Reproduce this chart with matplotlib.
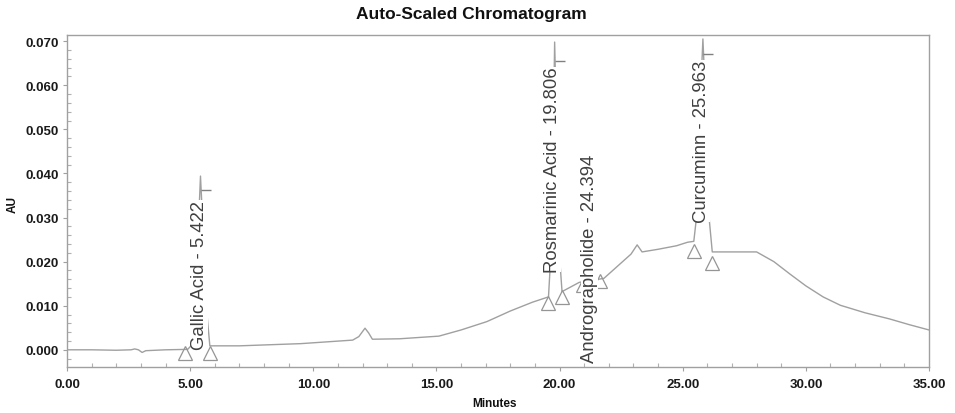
import numpy as np
import matplotlib
matplotlib.use('Agg')
import matplotlib.pyplot as plt
from matplotlib.ticker import MultipleLocator, FormatStrFormatter

plt.rcParams['font.family'] = ['Liberation Sans', 'DejaVu Sans']

# trace (minutes, AU)
minutes = [0.0, 1.0, 2.0, 2.6, 2.75, 2.9, 3.05, 3.2, 4.0, 4.9,
           5.05, 5.25, 5.35, 5.42, 5.50, 5.62, 5.8, 7.0, 9.5, 11.6,
           11.85, 12.1, 12.25, 12.4, 13.5, 15.1, 16.0, 17.05, 18.0, 18.9,
           19.55, 19.68, 19.76, 19.80, 19.86, 19.95, 20.1, 20.8, 21.8, 22.9,
           23.15, 23.35, 24.0, 24.75, 25.2, 25.45, 25.62, 25.74, 25.82, 25.90,
           26.02, 26.2, 28.0, 28.7, 29.35, 30.0, 30.7, 31.4, 32.4, 33.4,
           34.2, 35.0]
au = [0.0000, 0.0000, -0.0001, 0.0000, 0.0002, 0.0000, -0.0006, -0.0002, 0.0000, 0.0001,
      0.0010, 0.0120, 0.0300, 0.0394, 0.0300, 0.0120, 0.0009, 0.0009, 0.0014, 0.0022,
      0.0030, 0.0049, 0.0038, 0.0024, 0.0025, 0.0031, 0.0045, 0.0064, 0.0088, 0.0108,
      0.0120, 0.0250, 0.0550, 0.0698, 0.0550, 0.0250, 0.0132, 0.0153, 0.0162, 0.0217,
      0.0238, 0.0222, 0.0228, 0.0236, 0.0244, 0.0246, 0.0330, 0.0600, 0.0705, 0.0600,
      0.0330, 0.0222, 0.0222, 0.0200, 0.0172, 0.0145, 0.0120, 0.0101, 0.0084, 0.0070,
      0.0057, 0.0045]

# peak labels as printed on the report
peak_names = ['Gallic Acid', 'Rosmarinic Acid', 'Andrographolide', 'Curcuminn']
peak_times = [5.422, 19.806, 24.394, 25.963]
label_x = [5.37, 19.70, 21.23, 25.78]
label_y = [0.0002, 0.0176, -0.0028, 0.0290]

# small leader ticks above the labels
dash_x = [5.45, 19.82, 25.84]
dash_y = [0.0362, 0.0654, 0.0670]

# peak start / end markers
mark_x = [4.8, 5.8, 19.55, 20.1, 20.95, 21.65, 25.45, 26.2]
mark_y = [-0.0008, -0.0008, 0.0106, 0.0120, 0.0148, 0.0155, 0.0225, 0.0197]

fig = plt.figure(figsize=(9.55, 4.14), dpi=100)
ax = fig.add_axes([67/955, 1-368/414, (929-67)/955, (368-36)/414])

ax.plot(minutes, au, color='#a0a0a0', lw=1.0, zorder=2)
ax.plot(mark_x, mark_y, linestyle='none', marker='^', markersize=9.5,
        markerfacecolor='none', markeredgecolor='#959595', markeredgewidth=0.9, zorder=3)
ax.plot(dash_x, dash_y, linestyle='none', marker=1, markersize=7,
        markeredgecolor='#808080', markeredgewidth=1.0, zorder=3)

for name, t, x, y in zip(peak_names, peak_times, label_x, label_y):
    ax.text(x, y, f'{name} - {t:.3f}', rotation=90, ha='center', va='bottom',
            fontsize=13.3, color='#404040', zorder=4,
            bbox=dict(boxstyle='square,pad=0.0', fc='white', ec='none'))

ax.set_xlim(0, 35)
ax.set_ylim(-0.0039, 0.0714)
ax.xaxis.set_major_locator(MultipleLocator(5))
ax.xaxis.set_minor_locator(MultipleLocator(1))
ax.yaxis.set_major_locator(MultipleLocator(0.01))
ax.yaxis.set_minor_locator(MultipleLocator(0.002))
ax.xaxis.set_major_formatter(FormatStrFormatter('%.2f'))
ax.yaxis.set_major_formatter(FormatStrFormatter('%.3f'))

for side in ax.spines.values():
    side.set_color('#a0a0a0')
    side.set_linewidth(1.0)
ax.tick_params(which='major', direction='out', length=3, color='#a0a0a0', width=0.8)
ax.tick_params(which='minor', direction='in', length=3, color='#b0b0b0', width=0.8)
ax.tick_params(axis='x', which='both', top=False, pad=5)
ax.tick_params(axis='y', which='both', right=False, pad=3)
for lbl in ax.get_xticklabels() + ax.get_yticklabels():
    lbl.set_fontsize(9.5)
    lbl.set_fontweight('bold')
    lbl.set_color('#1a1a1a')

fig.text(471/955, 1-15/414, 'Auto-Scaled Chromatogram', ha='center', va='center',
         fontsize=12.5, fontweight='bold', color='#111111')
fig.text(494/955, 1-404/414, 'Minutes', ha='center', va='center',
         fontsize=8.5, fontweight='bold', color='#111111')
fig.text(13/955, 1-205/414, 'AU', ha='center', va='center', rotation=90,
         fontsize=8.5, fontweight='bold', color='#111111')

fig.savefig('out.png', dpi=100)
